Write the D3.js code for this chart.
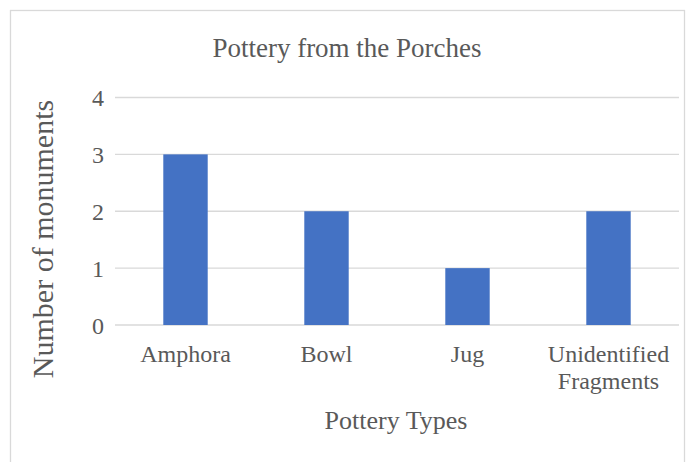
<!DOCTYPE html>
<html>
<head>
<meta charset="utf-8">
<script src="https://cdn.jsdelivr.net/npm/d3@7"></script>
<style>
  html, body { margin: 0; padding: 0; background: #fff; }
  svg { display: block; }
  text { font-family: "Liberation Serif", "Times New Roman", serif; fill: #595959; }
</style>
</head>
<body>
<svg id="chart" width="695" height="462"></svg>
<script>
// Pottery counts by type
const categories = ["Amphora", "Bowl", "Jug", "Unidentified Fragments"];
const counts = [3, 2, 1, 2];
const yTicks = [0, 1, 2, 3, 4];

const plot = { left: 115, right: 679, top: 97.5, bottom: 325 };

const svg = d3.select("#chart");

// chart frame
svg.append("rect")
  .attr("x", 10.5).attr("y", 10.5)
  .attr("width", 674).attr("height", 470)
  .attr("fill", "#fff").attr("stroke", "#d9d9d9").attr("stroke-width", 1.3);

const x = d3.scaleBand()
  .domain(categories)
  .range([plot.left, plot.right])
  .paddingInner(0.685).paddingOuter(0.3425);

const y = d3.scaleLinear()
  .domain([0, 4])
  .range([plot.bottom, plot.top]);

// horizontal gridlines
svg.append("g")
  .selectAll("line")
  .data(yTicks)
  .join("line")
  .attr("x1", plot.left).attr("x2", plot.right)
  .attr("y1", d => y(d)).attr("y2", d => y(d))
  .attr("stroke", "#d9d9d9").attr("stroke-width", 1.3);

// bars
svg.append("g")
  .selectAll("rect")
  .data(categories.map((c, i) => ({ c, v: counts[i] })))
  .join("rect")
  .attr("x", d => x(d.c))
  .attr("width", x.bandwidth())
  .attr("y", d => y(d.v))
  .attr("height", d => y(0) - y(d.v))
  .attr("fill", "#4472c4");

// y axis tick labels
const yAxis = d3.axisLeft(y).tickValues(yTicks).tickSize(0).tickPadding(0).tickFormat(d3.format("d"));
const gy = svg.append("g").attr("transform", `translate(${plot.left - 11},0)`).call(yAxis);
gy.select(".domain").remove();
gy.selectAll("text")
  .attr("font-size", 24).attr("dy", "0.34em")
  .style("font-family", "Liberation Serif").attr("fill", "#595959");

// x axis category labels (wrapped)
const xAxis = d3.axisBottom(x).tickSize(0).tickPadding(0);
const gx = svg.append("g").attr("transform", `translate(0,${plot.bottom})`).call(xAxis);
gx.select(".domain").remove();
gx.selectAll("text")
  .attr("font-size", 24)
  .style("font-family", "Liberation Serif").attr("fill", "#595959")
  .each(function (d) {
    const t = d3.select(this);
    const words = d.split(" ");
    t.text(null).attr("y", 0).attr("dy", null);
    words.forEach((w, i) => {
      t.append("tspan").attr("x", 0).attr("y", 37 + i * 27).text(w);
    });
  });

// title
svg.append("text")
  .attr("x", 347).attr("y", 57)
  .attr("text-anchor", "middle")
  .attr("font-size", 27)
  .text("Pottery from the Porches");

// axis titles
svg.append("text")
  .attr("transform", `translate(53,239) rotate(-90)`)
  .attr("text-anchor", "middle")
  .attr("font-size", 30)
  .text("Number of monuments");

svg.append("text")
  .attr("x", 396).attr("y", 429)
  .attr("text-anchor", "middle")
  .attr("font-size", 26)
  .text("Pottery Types");
</script>
</body>
</html>
